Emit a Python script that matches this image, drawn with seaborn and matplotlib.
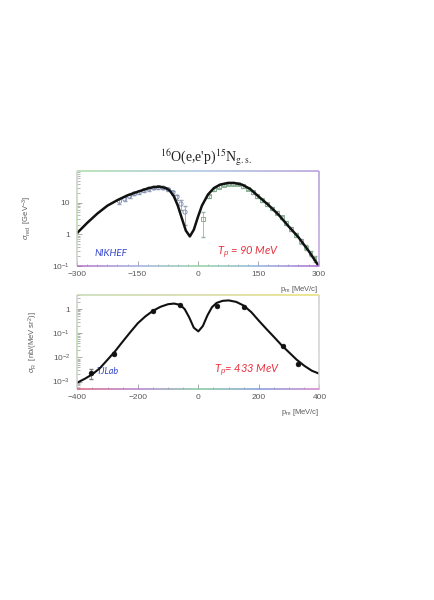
#!/usr/bin/env python3
# 16O(e,e'p)15N g.s. momentum distributions, NIKHEF (top) and TJLab (bottom)

import numpy as np
import matplotlib
matplotlib.use("Agg")
import matplotlib.pyplot as plt
import seaborn as sns
from matplotlib.collections import LineCollection
from matplotlib.colors import LinearSegmentedColormap
from matplotlib.ticker import FixedLocator, LogLocator, NullFormatter

# ============================================================================
# DATA
# ============================================================================
# NIKHEF, T_p = 90 MeV : theory curve
nik_pm = [-300, -275, -250, -225, -200, -175, -150, -125, -110, -95, -80, -70,
          -60, -50, -40, -30, -20, -10, 0, 10, 25, 40, 55, 75, 90, 110, 130,
          150, 175, 200, 225, 250, 275, 300]
nik_sig = [1.1, 2.3, 4.5, 8.0, 12, 17, 22, 28, 31, 32, 29, 24,
           16, 8.0, 3.2, 1.3, 0.85, 1.4, 3.5, 8.0, 18, 29, 37, 42, 42, 37, 27,
           16, 8.5, 4.2, 1.8, 0.8, 0.3, 0.1]

# NIKHEF data, negative p_m side
nik_neg_pm = [-195, -182, -170, -158, -146, -134, -122, -110, -98, -86, -74,
              -62, -52, -42, -32]
nik_neg_sig = [11, 13, 16, 19, 21, 24, 27, 29, 30, 29, 26, 21, 15, 9, 5]
nik_neg_err = [2, 2, 2, 2, 2, 2.5, 3, 3, 3, 3, 3, 3, 3, 3, 3]

# NIKHEF data, positive p_m side
nik_pos_pm = [12, 28, 40, 52, 64, 76, 88, 100, 112, 124, 136, 148, 160, 172,
              184, 196, 208, 220, 232, 244, 256, 268, 280, 290]
nik_pos_sig = [3, 16, 26, 32, 36, 39, 40, 38, 33, 27, 21, 16, 12, 9, 6.5, 4.8,
               3.4, 2.3, 1.5, 0.95, 0.6, 0.38, 0.25, 0.17]
nik_pos_err = [2.2, 2, 2.5, 3, 3, 3, 3, 3, 3, 2.5, 2, 1.5, 1.2, 1, 0.7, 0.5,
               0.4, 0.3, 0.2, 0.15, 0.1, 0.07, 0.05, 0.04]

# TJLab, T_p = 433 MeV : theory curve
jl_pm = [-400, -375, -350, -325, -300, -275, -250, -225, -200, -175, -150,
         -125, -100, -80, -60, -45, -30, -15, 0, 15, 30, 45, 60, 80, 100, 125,
         150, 175, 200, 225, 250, 275, 300, 325, 350, 375, 400]
jl_sig = [9e-4, 1.3e-3, 2.0e-3, 3.6e-3, 8e-3, 0.018, 0.045, 0.11, 0.26, 0.5,
          0.85, 1.25, 1.6, 1.7, 1.5, 1.0, 0.45, 0.17, 0.12, 0.2, 0.55, 1.2,
          1.8, 2.2, 2.3, 2.0, 1.4, 0.75, 0.33, 0.15, 0.07, 0.032, 0.016,
          0.008, 0.0045, 0.0028, 0.0021]

# TJLab data
jl_data_pm = [-355, -280, -150, -60, 60, 150, 280, 330]
jl_data_sig = [2.3e-3, 0.014, 0.85, 1.45, 1.35, 1.2, 0.029, 0.0054]
jl_data_err = [1.0e-3, 2e-3, 0.06, 0.1, 0.1, 0.08, 3e-3, 6e-4]

# ============================================================================
# THEME SETTINGS
# ============================================================================
sns.set_theme(style="white")
plt.rcParams['font.family'] = ['Liberation Sans', 'DejaVu Sans']
plt.rcParams['mathtext.fontset'] = 'custom'
plt.rcParams['mathtext.rm'] = 'Liberation Sans'
plt.rcParams['mathtext.it'] = 'Liberation Sans:italic'

tick_gray = '#5a5a5a'
hand_blue = '#3344cc'
hand_red = '#e8323f'


def paint_edge(ax, p0, p1, colors, lw=1.1):
    # scanned frame lines come out in rainbow tints
    t = np.linspace(0, 1, 60)
    pts = np.column_stack([p0[0] + (p1[0] - p0[0]) * t,
                           p0[1] + (p1[1] - p0[1]) * t]).reshape(-1, 1, 2)
    segs = np.concatenate([pts[:-1], pts[1:]], axis=1)
    cmap = LinearSegmentedColormap.from_list('edge', colors)
    lc = LineCollection(segs, colors=cmap(t[:-1]), linewidths=lw,
                        transform=ax.transAxes, clip_on=False, zorder=5)
    ax.add_collection(lc, autolim=False)


def style_axes(ax, frame):
    for s in ax.spines.values():
        s.set_visible(False)
    for side, cols in frame.items():
        p0, p1 = {'top': ((0, 1), (1, 1)), 'bottom': ((0, 0), (1, 0)),
                  'left': ((0, 0), (0, 1)), 'right': ((1, 0), (1, 1))}[side]
        paint_edge(ax, p0, p1, cols)
    ax.tick_params(which='both', direction='in', colors='#9a9a9a',
                   labelcolor=tick_gray, labelsize=6,
                   left=True, bottom=True)
    ax.tick_params(axis='x', pad=4)
    ax.tick_params(axis='y', pad=5)
    ax.tick_params(which='major', length=3.5, width=0.6)
    ax.tick_params(which='minor', length=1.8, width=0.5)
    ax.grid(False)


# ============================================================================
# CREATE PLOT
# ============================================================================
fig = plt.figure(figsize=(4.34, 6.0), dpi=100)
fig.patch.set_facecolor('white')

fig.text(0.475, 0.737, r"$^{16}$O(e,e'p)$^{15}$N$_{\mathrm{g.s.}}$",
         ha='center', va='center', fontsize=10, color='#222222',
         family=['Liberation Serif', 'DejaVu Serif'],
         math_fontfamily='stix')

# ---------------- top panel: NIKHEF ----------------
ax1 = fig.add_axes([0.178, 0.557, 0.556, 0.158])
ax1.set_yscale('log')

ax1.errorbar(nik_neg_pm, nik_neg_sig, yerr=nik_neg_err, fmt='none',
             ecolor='#9aa3b5', elinewidth=0.6, capsize=1.2, zorder=2)
ax1.errorbar(nik_pos_pm, nik_pos_sig, yerr=nik_pos_err, fmt='none',
             ecolor='#9ab59f', elinewidth=0.6, capsize=1.2, zorder=2)
sns.scatterplot(x=nik_neg_pm, y=nik_neg_sig, marker='o', s=9,
                facecolor='none', edgecolor='#7b8cb3', linewidth=0.6,
                ax=ax1, zorder=3)
sns.scatterplot(x=nik_pos_pm, y=nik_pos_sig, marker='s', s=8,
                facecolor='none', edgecolor='#7aa88a', linewidth=0.6,
                ax=ax1, zorder=3)
sns.lineplot(x=nik_pm, y=nik_sig, color='#111111', linewidth=1.8,
             sort=False, ax=ax1, zorder=4)

ax1.set_xlim(-300, 300)
ax1.set_ylim(0.1, 100)
ax1.xaxis.set_major_locator(FixedLocator([-300, -150, 0, 150, 300]))
ax1.xaxis.set_minor_locator(FixedLocator(list(range(-300, 301, 25))))
ax1.set_xticklabels(['\u2212300', '\u2212150', '0', '150', '300'])
ax1.yaxis.set_major_locator(FixedLocator([0.1, 1, 10]))
ax1.set_yticklabels([r'10$^{-1}$', '1', '10'])
ax1.yaxis.set_minor_locator(LogLocator(base=10, subs=np.arange(2, 10)))
ax1.yaxis.set_minor_formatter(NullFormatter())
style_axes(ax1, {'top': ['#a8dca8', '#a8c4e0', '#b49ad8'],
                 'right': ['#c0a8e0', '#b49ad8'],
                 'left': ['#cfcfcf', '#b8d8a8', '#cfcfcf'],
                 'bottom': ['#b070c8', '#a0b0e0', '#90d4a4', '#90b0e0', '#a868c8']})
ax1.set_ylabel(r'$\sigma_{\mathrm{red}}$  [GeV$^{-3}$]', fontsize=5.5,
               color=tick_gray, labelpad=13)
ax1.text(1.0, -0.19, r'p$_{\mathrm{m}}$ [MeV/c]', transform=ax1.transAxes,
         ha='right', va='top', fontsize=5.5, color=tick_gray)
ax1.text(0.07, 0.135, 'NIKHEF', transform=ax1.transAxes, ha='left',
         va='center', fontsize=7, color=hand_blue, style='italic',
         family=['Lato', 'DejaVu Sans'])
ax1.text(0.58, 0.14, r'T$_{p}$ = 90 MeV', transform=ax1.transAxes,
         ha='left', va='center', fontsize=8, color=hand_red, style='italic',
         family=['Lato', 'DejaVu Sans'])

# ---------------- bottom panel: TJLab ----------------
ax2 = fig.add_axes([0.178, 0.352, 0.558, 0.157])
ax2.set_yscale('log')

ax2.errorbar(jl_data_pm, jl_data_sig, yerr=jl_data_err, fmt='none',
             ecolor='#777777', elinewidth=0.6, capsize=1.5, zorder=2)
sns.scatterplot(x=jl_data_pm, y=jl_data_sig, marker='o', s=12,
                color='#111111', edgecolor='#111111', linewidth=0.4,
                ax=ax2, zorder=3)
sns.lineplot(x=jl_pm, y=jl_sig, color='#111111', linewidth=1.5,
             sort=False, ax=ax2, zorder=4)

ax2.set_xlim(-400, 400)
ax2.set_ylim(5e-4, 4)
ax2.xaxis.set_major_locator(FixedLocator([-400, -200, 0, 200, 400]))
ax2.xaxis.set_minor_locator(FixedLocator(list(range(-400, 401, 50))))
ax2.set_xticklabels(['\u2212400', '\u2212200', '0', '200', '400'])
ax2.yaxis.set_major_locator(FixedLocator([1e-3, 1e-2, 1e-1, 1]))
ax2.set_yticklabels([r'10$^{-3}$', r'10$^{-2}$', r'10$^{-1}$', '1'])
ax2.yaxis.set_minor_locator(LogLocator(base=10, subs=np.arange(2, 10)))
ax2.yaxis.set_minor_formatter(NullFormatter())
style_axes(ax2, {'top': ['#c4d8b0', '#d4d8a0', '#e8e070'],
                 'right': ['#d4d4d4', '#d0d0d0'],
                 'left': ['#d0d0d0', '#b8d8a8', '#d0d0d0'],
                 'bottom': ['#d86080', '#b080d0', '#80c8a0', '#8098d8', '#d080c8']})
ax2.set_ylabel(r'$\sigma_{\mathrm{R}}$  [nb/(MeV sr$^{2}$)]', fontsize=5.5,
               color=tick_gray, labelpad=9)
ax2.text(1.0, -0.19, r'p$_{\mathrm{m}}$ [MeV/c]', transform=ax2.transAxes,
         ha='right', va='top', fontsize=5.5, color=tick_gray)
ax2.text(0.078, 0.18, 'TJLab', transform=ax2.transAxes, ha='left',
         va='center', fontsize=6.5, color=hand_blue, style='italic',
         family=['Lato', 'DejaVu Sans'])
ax2.text(0.565, 0.19, r'T$_{p}$= 433 MeV', transform=ax2.transAxes,
         ha='left', va='center', fontsize=8, color=hand_red, style='italic',
         family=['Lato', 'DejaVu Sans'])

# ============================================================================
# SAVE OUTPUT
# ============================================================================
fig.savefig("out.png", dpi=100)
print("Plot saved to: out.png")
plt.close(fig)
